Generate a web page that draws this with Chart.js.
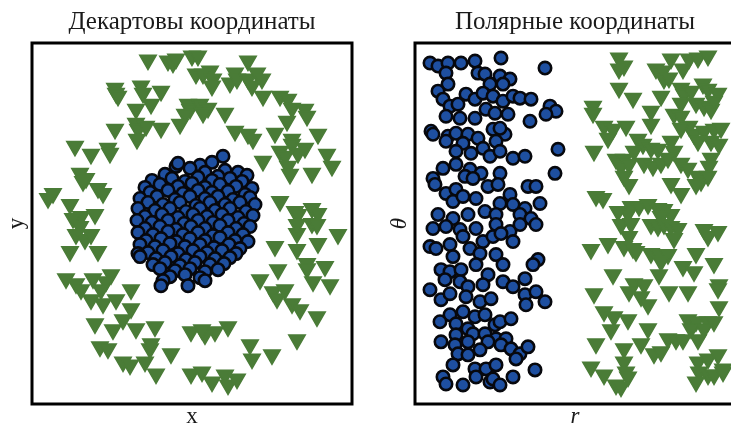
<!DOCTYPE html>
<html lang="ru">

<head>
    <meta charset="UTF-8">
    <title>Декартовы и полярные координаты</title>
    <style>
        body { margin: 0; overflow: hidden; background: #fff; }
        canvas { position: absolute; top: 0; }
    </style>
</head>

<body>
    <canvas id="cartChart" width="370" height="427" style="left: 0px;"></canvas>
    <canvas id="polarChart" width="370" height="427" style="left: 383px;"></canvas>

    <script src="https://cdn.jsdelivr.net/npm/chart.js"></script>
    <script>
        // декартовы координаты: [x, y]
        const cartBlue = [
            [0.31, 0.67], [-0.16, 0.57],
            [-0.14, 0.60], [0.08, 0.58], [0.20, 0.61],
            [-0.02, 0.55], [0.33, 0.53], [0.46, 0.51],
            [-0.27, 0.49], [0.13, 0.51], [0.55, 0.48], [0.26, 0.47],
            [-0.40, 0.43], [-0.20, 0.45], [-0.07, 0.42], [0.06, 0.46], [0.20, 0.43], [0.38, 0.45], [0.50, 0.42],
            [-0.47, 0.36], [-0.32, 0.39], [-0.14, 0.37], [0.00, 0.40], [0.13, 0.36], [0.28, 0.39], [0.44, 0.37], [0.60, 0.35],
            [-0.42, 0.31], [-0.24, 0.33], [-0.09, 0.30], [0.06, 0.33], [0.20, 0.31], [0.36, 0.32], [0.53, 0.29],
            [-0.52, 0.25], [-0.35, 0.27], [-0.17, 0.24], [-0.02, 0.27], [0.13, 0.25], [0.26, 0.27], [0.41, 0.24], [0.58, 0.26],
            [-0.44, 0.21], [-0.29, 0.19], [-0.12, 0.21], [0.04, 0.18], [0.18, 0.21], [0.33, 0.19], [0.48, 0.21], [0.63, 0.19],
            [-0.54, 0.15], [-0.37, 0.13], [-0.22, 0.15], [-0.06, 0.12], [0.08, 0.15], [0.23, 0.13], [0.38, 0.15], [0.54, 0.12],
            [-0.47, 0.07], [-0.30, 0.09], [-0.14, 0.06], [0.01, 0.09], [0.15, 0.07], [0.30, 0.09], [0.46, 0.06], [0.61, 0.08],
            [-0.55, 0.03], [-0.40, 0.01], [-0.24, 0.03], [-0.08, 0.00], [0.06, 0.03], [0.21, 0.01], [0.36, 0.03], [0.52, 0.00],
            [-0.47, -0.05], [-0.32, -0.03], [-0.16, -0.06], [-0.01, -0.03], [0.13, -0.05], [0.28, -0.02], [0.44, -0.05], [0.58, -0.03],
            [-0.54, -0.09], [-0.39, -0.11], [-0.24, -0.08], [-0.09, -0.11], [0.06, -0.09], [0.21, -0.12], [0.36, -0.09], [0.51, -0.11],
            [-0.46, -0.17], [-0.31, -0.15], [-0.16, -0.18], [-0.02, -0.15], [0.13, -0.17], [0.28, -0.14], [0.43, -0.17], [0.56, -0.18],
            [-0.52, -0.21], [-0.37, -0.23], [-0.22, -0.20], [-0.07, -0.23], [0.08, -0.21], [0.22, -0.24], [0.37, -0.21], [0.48, -0.25],
            [-0.44, -0.29], [-0.29, -0.27], [-0.14, -0.30], [0.01, -0.27], [0.15, -0.29], [0.30, -0.27], [0.44, -0.30], [-0.54, -0.30],
            [-0.52, -0.33], [-0.36, -0.35], [-0.21, -0.33], [-0.06, -0.36], [0.08, -0.33], [0.23, -0.35], [0.38, -0.34],
            [-0.39, -0.41], [-0.27, -0.39], [-0.12, -0.42], [0.03, -0.39], [0.18, -0.41], [0.32, -0.40],
            [-0.32, -0.45], [-0.17, -0.47], [-0.02, -0.45], [0.13, -0.48], [0.26, -0.46],
            [-0.22, -0.53], [-0.07, -0.51], [0.08, -0.54],
            [-0.29, -0.57], [0.13, -0.57], [-0.31, -0.62], [-0.04, -0.62]
        ];

        const cartGreen = [
            [-0.44, 1.63], [-0.24, 1.62], [-0.19, 1.60], [-0.16, 1.64], [0.00, 1.67], [0.04, 1.49],
            [-0.77, 1.35], [-0.76, 1.30], [-0.74, 1.27], [-0.51, 1.37], [-0.49, 1.30], [-0.31, 1.32],
            [-0.41, 1.19], [-0.56, 1.14], [-0.04, 1.19], [-0.02, 1.14], [-0.07, 1.09],
            [-0.56, 1.00], [-0.54, 0.94], [-0.55, 0.84], [-0.46, 0.97], [-0.31, 0.95], [-0.12, 0.99], [-0.77, 0.94],
            [-1.17, 0.77], [-1.01, 0.69], [-0.84, 0.75], [-0.82, 0.70],
            [-1.12, 0.50], [-1.06, 0.45], [-1.09, 0.42], [-0.94, 0.35], [-0.89, 0.30],
            [-1.39, 0.30], [-1.44, 0.25], [-1.22, 0.19], [-1.11, 0.07], [-0.97, 0.09], [-1.19, 0.05],
            [0.06, 1.67], [0.56, 1.62], [0.18, 1.52], [0.11, 1.49], [0.21, 1.44], [0.20, 1.37],
            [0.43, 1.50], [0.38, 1.40], [0.45, 1.44], [0.56, 1.44], [0.65, 1.50], [0.70, 1.44], [0.60, 1.37],
            [0.71, 1.27], [0.88, 1.27], [0.96, 1.24], [1.00, 1.15], [1.13, 1.14], [1.15, 1.07], [0.95, 1.02],
            [0.08, 1.19], [0.16, 1.15], [0.11, 1.10], [0.33, 1.10],
            [0.43, 0.92], [0.56, 0.89], [0.61, 0.84], [0.83, 0.90], [1.00, 0.84], [1.00, 0.79], [1.26, 0.89],
            [1.13, 0.75], [1.06, 0.70], [0.88, 0.72], [0.93, 0.67], [0.71, 0.62], [1.35, 0.69], [1.40, 0.57],
            [0.96, 0.57], [0.98, 0.49], [1.20, 0.50],
            [0.88, 0.22], [1.03, 0.12], [1.06, 0.09], [1.20, 0.15], [1.26, 0.10],
            [-1.12, -0.03], [-1.16, -0.11], [-1.07, -0.16], [-1.01, -0.11], [-1.22, -0.28], [-0.94, -0.28],
            [-1.26, -0.55], [-1.16, -0.60], [-1.11, -0.66], [-0.99, -0.55], [-0.81, -0.51], [-0.86, -0.58], [-0.91, -0.66],
            [-1.01, -0.76], [-0.89, -0.80], [-0.76, -0.76], [-0.61, -0.66], [-0.61, -0.85],
            [-0.97, -1.00], [-0.79, -1.06], [-0.69, -0.96], [-0.56, -1.05], [-0.37, -1.03],
            [-0.92, -1.23], [-0.84, -1.25], [-0.69, -1.38], [-0.62, -1.41], [-0.47, -1.38], [-0.42, -1.25], [-0.41, -1.20],
            [-0.21, -1.30], [-0.36, -1.50], [-0.01, -1.08], [-0.01, -1.50],
            [1.05, -0.10], [1.05, -0.01], [1.20, 0.00], [1.25, -0.01], [1.26, -0.20], [1.46, -0.11],
            [0.83, -0.23], [1.05, -0.26], [1.15, -0.40], [1.15, -0.45], [1.33, -0.43], [1.21, -0.58], [1.38, -0.61],
            [0.86, -0.46], [0.68, -0.56], [0.81, -0.68], [0.93, -0.66], [0.85, -0.75], [1.00, -0.80], [1.08, -0.86],
            [1.25, -0.93], [1.05, -1.16],
            [0.36, -1.03], [0.23, -1.08], [0.13, -1.11], [0.10, -1.06], [0.58, -1.21], [0.60, -1.35], [0.80, -1.31],
            [0.10, -1.48], [0.20, -1.58], [0.33, -1.51], [0.45, -1.55], [0.36, -1.61]
        ];

        // полярные координаты: [r, theta (градусы)]
        const polarBlue = [
            [0.15, 160], [0.23, 157], [0.33, 160], [0.46, 160], [0.60, 162], [0.86, 165], [1.30, 155],
            [0.31, 150], [0.63, 150], [0.70, 149], [0.85, 147], [0.95, 144], [0.75, 139], [0.88, 139],
            [0.33, 139], [0.23, 132], [0.28, 124], [0.51, 129], [0.60, 124], [0.68, 130], [0.78, 127],
            [0.88, 122], [0.98, 127], [1.05, 125], [1.16, 124], [1.35, 117], [1.41, 112], [1.31, 109],
            [0.35, 117], [0.43, 119], [0.31, 107], [0.45, 105], [0.60, 105], [0.71, 114], [0.80, 110],
            [0.93, 109], [1.15, 102], [0.16, 92], [0.18, 89], [0.33, 87], [0.41, 90], [0.53, 89],
            [0.63, 85], [0.78, 94], [0.90, 89], [0.85, 95], [0.31, 82], [0.48, 80], [0.68, 75], [0.81, 82],
            [1.43, 74], [0.41, 72], [0.56, 70], [0.75, 67], [0.85, 72], [0.98, 65], [1.10, 67],
            [0.28, 55], [0.41, 59], [0.55, 54], [0.66, 50], [0.85, 50], [1.40, 50],
            [0.18, 45], [0.20, 39], [0.50, 47], [0.58, 45], [0.73, 37], [0.83, 39], [1.13, 37], [1.21, 37],
            [0.31, 30], [0.41, 34], [0.38, 22], [0.48, 27], [0.61, 25], [0.85, 20], [0.95, 29], [0.98, 19],
            [1.10, 15], [1.25, 20], [0.23, 9], [0.38, 5], [0.53, 9], [0.70, 12], [0.81, 9], [1.05, 9], [1.16, 5],
            [0.18, -5], [0.31, -3], [0.45, -6], [0.61, -5], [0.81, -1], [0.95, -8], [1.05, -1], [1.21, -1],
            [0.15, -23], [0.21, -25], [0.35, -21], [0.48, -13], [0.55, -25], [0.68, -18], [0.78, -13],
            [0.86, -10], [0.98, -18], [0.38, -33], [0.65, -30], [0.81, -31], [0.88, -41], [1.23, -36], [1.18, -41],
            [0.26, -46], [0.35, -48], [0.46, -46], [0.61, -41], [0.73, -51], [0.88, -58], [0.98, -63], [1.10, -55],
            [0.30, -56], [0.45, -58], [0.53, -63], [0.68, -61], [0.15, -66], [0.26, -76], [0.35, -70],
            [0.51, -73], [0.65, -78], [0.76, -75], [1.10, -71], [1.21, -68], [1.30, -78], [1.11, -81],
            [0.35, -91], [0.48, -88], [0.60, -93], [0.70, -91], [0.25, -98], [0.41, -100], [0.53, -105],
            [0.80, -101], [0.85, -98], [0.96, -95], [0.41, -111], [0.58, -110], [0.70, -110], [0.81, -115],
            [0.91, -115], [0.26, -118], [0.40, -121], [0.53, -118], [0.73, -118], [0.86, -121], [0.96, -125],
            [1.05, -130], [1.13, -123], [1.01, -135], [0.43, -130], [0.53, -131], [0.65, -126],
            [0.38, -141], [0.60, -145], [0.71, -145], [0.81, -141], [1.20, -146],
            [0.28, -153], [0.31, -160], [0.48, -161], [0.61, -153], [0.75, -158], [0.78, -155], [0.85, -161], [0.98, -153]
        ];

        const polarGreen = [
            [2.04, 165], [2.09, 157], [2.04, 154], [2.41, 154], [2.48, 152], [2.56, 164], [2.68, 154],
            [2.74, 164], [2.83, 165], [2.93, 167], [2.49, 144], [2.54, 145], [2.66, 135], [2.69, 129],
            [2.76, 132], [2.88, 139], [2.93, 134], [3.03, 130], [2.04, 135], [2.18, 125], [2.46, 127],
            [1.78, 117], [1.78, 110], [2.66, 120], [2.81, 120], [2.89, 117], [2.96, 114], [2.99, 122],
            [2.36, 112], [2.59, 109], [2.66, 107], [1.89, 97], [1.98, 94], [1.93, 85], [2.11, 97], [2.36, 99],
            [2.74, 97], [2.79, 89], [2.89, 92], [2.99, 94], [3.06, 95], [2.96, 82], [2.83, 82], [3.04, 79],
            [2.66, 95], [2.23, 84], [2.28, 79], [2.36, 75], [2.43, 74], [2.19, 72], [1.79, 72], [2.56, 82],
            [2.59, 72], [2.01, 64], [2.09, 64], [2.06, 57], [2.14, 59], [2.29, 60], [2.38, 57], [2.46, 60],
            [2.53, 65], [2.66, 60], [2.73, 55], [2.96, 65], [2.94, 57], [2.09, 47], [2.14, 39], [2.56, 40],
            [2.83, 47], [2.86, 42], [2.93, 47], [2.81, 39], [2.66, 30], [1.81, 27], [1.88, 25],
            [2.16, 17], [2.13, 10], [2.03, 12], [2.24, 17], [2.33, 19], [2.43, 15], [2.49, 14], [2.56, 9], [2.46, 7],
            [2.06, -1], [2.16, 0], [2.14, -13], [2.36, -1], [2.43, -3], [2.49, -1], [2.56, -3], [2.63, -5],
            [2.59, -15], [2.89, -6], [2.93, -13], [3.03, -8], [1.76, -26], [1.93, -20], [2.09, -23],
            [2.18, -25], [2.21, -28], [2.36, -30], [2.44, -31], [2.53, -31], [2.46, -38], [2.81, -30],
            [2.68, -43], [2.79, -48], [2.99, -40], [1.98, -51], [2.44, -51], [2.19, -60], [2.29, -61],
            [2.14, -68], [2.26, -73], [2.33, -81], [3.04, -61], [3.03, -65], [1.79, -70], [2.54, -68],
            [2.73, -68], [3.04, -83], [1.89, -88], [1.99, -93], [1.96, -106], [2.13, -96], [2.33, -105],
            [2.73, -96], [2.81, -98], [2.93, -98], [2.99, -98], [2.76, -105], [2.89, -105],
            [1.81, -120], [2.09, -125], [2.26, -120], [2.53, -115], [2.61, -116], [2.68, -116], [2.83, -116],
            [2.39, -130], [2.46, -128], [1.76, -143], [1.89, -151], [2.09, -138], [2.11, -148], [2.13, -153],
            [2.01, -161], [2.06, -163], [2.83, -138], [2.93, -135], [3.03, -131], [3.08, -145], [2.84, -148],
            [2.93, -151], [2.81, -158], [2.99, -151], [3.08, -148]
        ];

        const cartRange = { x: [-1.6, 1.6], y: [-1.8, 1.8] };
        const polarRange = { x: [0, 3.2], y: [-180, 180] };

        const blueFill = "#1e4fa0";
        const blueEdge = "#07080d";
        const greenFill = "#4a7c37";
        const serif = "'Liberation Serif', 'DejaVu Serif', serif";

        // рамка вокруг области графика
        const framePlugin = {
            id: "frame",
            afterDatasetsDraw(chart) {
                const { ctx, chartArea } = chart;
                ctx.save();
                ctx.lineWidth = 3;
                ctx.strokeStyle = "#000";
                ctx.strokeRect(chartArea.left, chartArea.top,
                    chartArea.right - chartArea.left, chartArea.bottom - chartArea.top);
                ctx.restore();
            }
        };

        function toPoints(arr) {
            return arr.map(p => ({ x: p[0], y: p[1] }));
        }

        function makeChart(id, title, xTitle, yTitle, italic, range, blue, green) {
            const ctx = document.getElementById(id);
            new Chart(ctx, {
                type: "scatter",
                data: {
                    datasets: [
                        {
                            data: toPoints(blue),
                            pointStyle: "circle",
                            pointRadius: 6.2,
                            pointHoverRadius: 6.2,
                            backgroundColor: blueFill,
                            borderColor: blueEdge,
                            borderWidth: 2.6,
                            clip: false
                        },
                        {
                            data: toPoints(green),
                            pointStyle: "triangle",
                            rotation: 180,
                            pointRadius: 9.5,
                            pointHoverRadius: 9.5,
                            backgroundColor: greenFill,
                            borderColor: greenFill,
                            borderWidth: 1.5,
                            clip: false
                        }
                    ]
                },
                options: {
                    responsive: false,
                    animation: false,
                    events: [],
                    layout: { padding: { left: 0, right: 18, top: 0, bottom: 0 } },
                    plugins: {
                        legend: { display: false },
                        tooltip: { enabled: false },
                        title: {
                            display: true,
                            text: title,
                            fullSize: false,
                            color: "#1a1a1a",
                            font: { family: serif, size: 25, weight: "normal", lineHeight: 1.2 },
                            padding: { top: 7, bottom: 6 }
                        }
                    },
                    scales: {
                        x: {
                            type: "linear",
                            min: range.x[0],
                            max: range.x[1],
                            ticks: { display: false },
                            grid: { display: false },
                            border: { display: false },
                            title: {
                                display: true,
                                text: xTitle,
                                color: "#1a1a1a",
                                font: { family: serif, size: 23, style: italic ? "italic" : "normal", lineHeight: 1 },
                                padding: { top: 0, bottom: -1 }
                            },
                            afterFit(scale) { scale.height = 23; }
                        },
                        y: {
                            type: "linear",
                            min: range.y[0],
                            max: range.y[1],
                            ticks: { display: false },
                            grid: { display: false },
                            border: { display: false },
                            title: {
                                display: true,
                                text: yTitle,
                                color: "#1a1a1a",
                                font: { family: serif, size: 23, style: italic ? "italic" : "normal", lineHeight: 1 },
                                padding: { top: 5, bottom: 0 }
                            },
                            afterFit(scale) { scale.width = 32; }
                        }
                    }
                },
                plugins: [framePlugin]
            });
        }

        makeChart("cartChart", "Декартовы координаты", "x", "y", false, cartRange, cartBlue, cartGreen);
        makeChart("polarChart", "Полярные координаты", "r", "θ", true, polarRange, polarBlue, polarGreen);
    </script>
</body>

</html>
